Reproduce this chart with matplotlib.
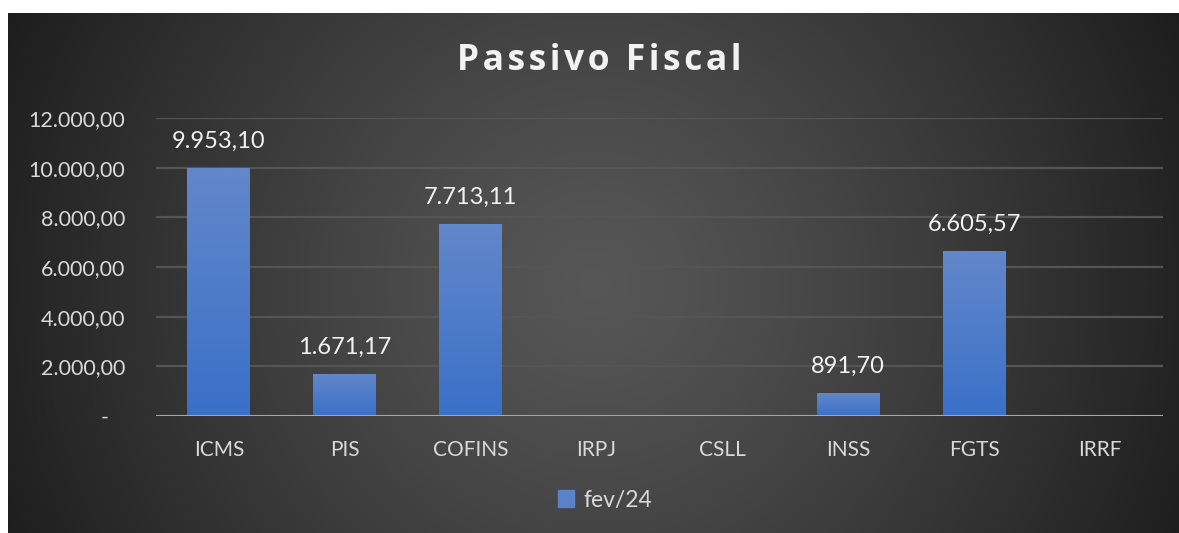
import numpy as np
import matplotlib
matplotlib.use("Agg")
import matplotlib.pyplot as plt
from matplotlib.colors import LinearSegmentedColormap
from matplotlib.patches import Patch
from matplotlib.ticker import FuncFormatter

categorias = ["ICMS", "PIS", "COFINS", "IRPJ", "CSLL", "INSS", "FGTS", "IRRF"]
valores = [9953.10, 1671.17, 7713.11, 0, 0, 891.70, 6605.57, 0]
yticks = [0, 2000, 4000, 6000, 8000, 10000, 12000]
serie = "fev/24"
titulo = "Passivo Fiscal"

plt.rcParams['font.family'] = ['Lato', 'DejaVu Sans']


def br(v, casas=2):
    s = f"{v:,.{casas}f}"
    return s.replace(",", "X").replace(".", ",").replace("X", ".")


W, H = 1179, 533
fig = plt.figure(figsize=(W / 100, H / 100), dpi=100)
fig.patch.set_facecolor("white")

# fundo com gradiente radial
bg = fig.add_axes([8 / W, 0, (W - 8) / W, (H - 13) / H])
bg.set_axis_off()
ny, nx = 260, 585
yy, xx = np.mgrid[0:ny, 0:nx]
cx, cy = nx / 2, ny * 0.52
d = np.sqrt((xx - cx) ** 2 + (yy - cy) ** 2) / np.sqrt(cx ** 2 + cy ** 2)
g = 0.34 - (0.34 - 0.115) * np.clip(d, 0, 1) ** 1.2
bg.imshow(np.dstack([g, g, g]), aspect="auto", extent=[0, 1, 0, 1], interpolation="bicubic")
bg.set_xlim(0, 1)
bg.set_ylim(0, 1)

ax = fig.add_axes([156 / W, (H - 416) / H, (1163 - 156) / W, (416 - 118) / H])
ax.patch.set_alpha(0)

cmap = LinearSegmentedColormap.from_list("barra", ["#3a70c8", "#6287ca"])
grad = np.linspace(0, 1, 100).reshape(-1, 1)
x = np.arange(len(categorias))
for xi, v in zip(x, valores):
    if v > 0:
        ax.imshow(grad, cmap=cmap, origin="lower", aspect="auto",
                  extent=[xi - 0.25, xi + 0.25, 0, v], zorder=3)
        ax.annotate(br(v), (xi, v), xytext=(0, 12), textcoords="offset points",
                    ha="center", va="bottom", color="#f2f2f2", fontsize=17)

ax.set_xlim(-0.5, len(categorias) - 0.5)
ax.set_ylim(0, 12000)
ax.set_yticks(yticks)
ax.yaxis.set_major_formatter(FuncFormatter(lambda v, p: "-   " if v == 0 else br(v)))
ax.set_xticks(x)
ax.set_xticklabels(categorias, fontsize=15)
ax.tick_params(axis="both", length=0, colors="#d9d9d9")
ax.tick_params(axis="y", pad=22, labelsize=15.5)
ax.tick_params(axis="x", pad=17)
for s in ax.spines.values():
    s.set_visible(False)
ax.grid(axis="y", color="#555555", lw=1.6, zorder=1)
ax.axhline(0, color="#a6a6a6", lw=2.2, zorder=4)

# titulo com espacamento entre letras
titulo_esp = "\u200a".join(titulo)
fig.text(0.508, (H - 61) / H, titulo_esp, ha="center", va="center", color="#f2f2f2",
         fontsize=25.5, fontweight="bold", family=['Open Sans', 'DejaVu Sans'])

fig.legend(handles=[Patch(color="#5a82c8", label=serie)], loc="center",
           bbox_to_anchor=(605 / W, (H - 500) / H), frameon=False,
           labelcolor="#d9d9d9", fontsize=16.5, handlelength=0.7, handleheight=0.7,
           handletextpad=0.4)

fig.savefig("out.png", dpi=100, facecolor=fig.get_facecolor())
